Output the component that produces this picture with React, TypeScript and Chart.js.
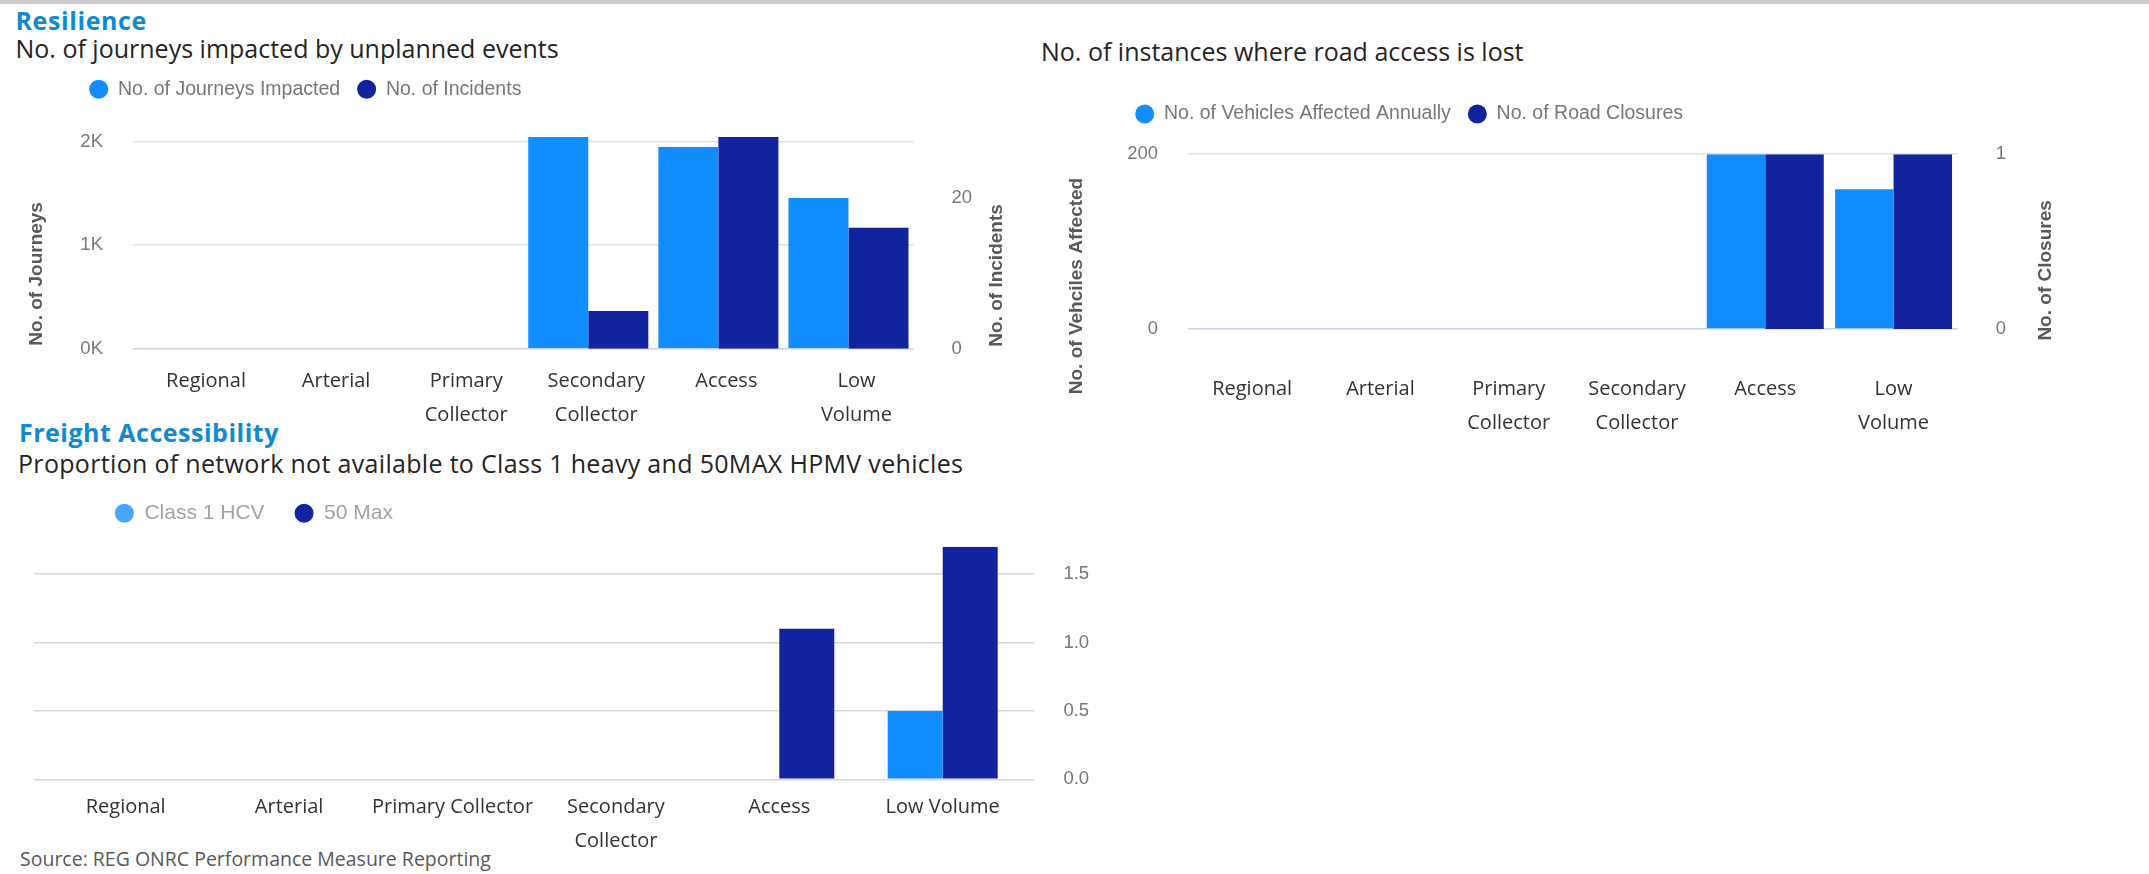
import React, { useEffect, useRef } from 'react';
import { Chart, registerables } from 'chart.js';

Chart.register(...registerables);

// ---------- data ----------
const topCategories: (string | string[])[] = ['Regional', 'Arterial', ['Primary', 'Collector'], ['Secondary', 'Collector'], 'Access', ['Low', 'Volume']];
const freightCategories: (string | string[])[] = ['Regional', 'Arterial', 'Primary Collector', ['Secondary', 'Collector'], 'Access', 'Low Volume'];

const journeysImpacted = [null, null, null, 2045, 1949, 1456];
const incidents = [null, null, null, 5, 28, 16];
const journeysTicks = [0, 1000, 2000];
const journeysTickLabels = ['0K', '1K', '2K'];
const journeysAxisMax = 2045;
const incidentsTicks = [0, 20];
const incidentsTickLabels = ['0', '20'];
const incidentsAxisMax = 28;

const vehiclesAffected = [null, null, null, null, 200, 160];
const roadClosures = [null, null, null, null, 1, 1];
const vehiclesTicks = [0, 200];
const vehiclesTickLabels = ['0', '200'];
const vehiclesAxisMax = 200;
const closuresTicks = [0, 1];
const closuresTickLabels = ['0', '1'];
const closuresAxisMax = 1;

const class1HCV = [null, null, null, null, null, 0.5];
const max50 = [null, null, null, null, 1.1, 1.7];
const freightTicks = [0, 0.5, 1, 1.5];
const freightTickLabels = ['0.0', '0.5', '1.0', '1.5'];
const freightAxisMax = 1.7;

// ---------- text ----------
const titleResilience = 'Resilience';
const titleJourneys = 'No. of journeys impacted by unplanned events';
const titleRoadAccess = 'No. of instances where road access is lost';
const titleFreight = 'Freight Accessibility';
const titleProportion = 'Proportion of network not available to Class 1 heavy and 50MAX HPMV vehicles';
const sourceText = 'Source: REG ONRC Performance Measure Reporting';
const axisJourneys = 'No. of Journeys';
const axisIncidents = 'No. of Incidents';
const axisVehicles = 'No. of Vehciles Affected';
const axisClosures = 'No. of Closures';

// ---------- styles ----------
const FONT_UI = "'Open Sans', 'Segoe UI', sans-serif";
const FONT_ARIAL = "'Liberation Sans', Arial, sans-serif";
const LIGHT = '#118DFF';
const DARK = '#12239E';
const GRID = '#e3e3e3';
const BASE = '#c9d2e4';
const TICK_COLOR = '#777777';
const BLUE_TITLE = '#0f89d0';

const tickFont = { family: FONT_ARIAL, size: 18.5 };
const catFont = { family: FONT_UI, size: 20, lineHeight: 1.7 };

function legendShift(dx: number, dy: number) {
  return {
    id: 'legendShift',
    afterLayout(chart: any) {
      const lg = chart.legend;
      if (!lg) return;
      lg.left += dx; lg.right += dx; lg.top += dy; lg.bottom += dy;
    },
  };
}

type AxisTitle = { text: string; side: 'left' | 'right'; dx: number; dy: number };
function axisTitlePlugin(items: AxisTitle[]) {
  return {
    id: 'axisTitleText',
    afterDraw(chart: any) {
      const { ctx, chartArea } = chart;
      const cy = (chartArea.top + chartArea.bottom) / 2;
      items.forEach((it) => {
        const x = it.side === 'left' ? chartArea.left - it.dx : chartArea.right + it.dx;
        ctx.save();
        ctx.translate(x, cy + it.dy);
        ctx.rotate(-Math.PI / 2);
        ctx.font = `bold 19px ${FONT_ARIAL}`;
        ctx.fillStyle = '#595959';
        ctx.textAlign = 'center';
        ctx.textBaseline = 'middle';
        ctx.fillText(it.text, 0, 0);
        ctx.restore();
      });
    },
  };
}

function yAxis(o: {
  position: 'left' | 'right'; max: number; ticks: number[]; labels: string[]; width: number; padding: number;
  grid: 'top' | 'freight' | 'none'; tickLength?: number; showLabels?: boolean; onChart?: boolean;
}) {
  const gridOpts: any =
    o.grid === 'none'
      ? { display: false }
      : {
          drawTicks: !!o.tickLength,
          tickLength: o.tickLength || 0,
          lineWidth: 1.5,
          drawOnChartArea: o.onChart !== false,
          color: (c: any) => (o.grid === 'top' && c.tick && c.tick.value === 0 ? BASE : o.grid === 'top' ? GRID : '#d9d9d9'),
        };
  return {
    type: 'linear',
    position: o.position,
    min: 0,
    max: o.max,
    afterBuildTicks: (s: any) => { s.ticks = o.ticks.map((v) => ({ value: v })); },
    ticks: {
      display: o.showLabels !== false,
      color: TICK_COLOR,
      font: tickFont,
      padding: o.padding,
      callback: (_v: any, i: number) => o.labels[i],
    },
    grid: gridOpts,
    border: { display: false },
    afterFit: (s: any) => { s.width = o.width; },
  };
}

function xAxis(padding: number, labelOffset: number, height: number) {
  return {
    grid: { display: false },
    border: { display: false },
    ticks: { color: '#333333', font: catFont, padding, labelOffset, maxRotation: 0, minRotation: 0, autoSkip: false },
    afterFit: (s: any) => { s.height = height; },
  };
}

function legendOpts(size: number, padding: number, color: string, colors?: string[]) {
  const labels: any = {
    usePointStyle: true,
    pointStyle: 'circle',
    boxWidth: 19,
    boxHeight: 13.4,
    padding,
    color,
    font: { family: FONT_ARIAL, size },
  };
  if (colors) {
    labels.generateLabels = (chart: any) => {
      const items = (Chart as any).defaults.plugins.legend.labels.generateLabels(chart);
      items.forEach((it: any, i: number) => { it.fillStyle = colors[i]; it.strokeStyle = colors[i]; it.lineWidth = 0; });
      return items;
    };
  }
  return { display: true, position: 'top', align: 'start', labels };
}

const baseOptions = { animation: false, responsive: true, maintainAspectRatio: false, events: [] as string[] };

function journeysConfig(): any {
  return {
    type: 'bar',
    data: {
      labels: topCategories,
      datasets: [
        { label: 'No. of Journeys Impacted', data: journeysImpacted, backgroundColor: LIGHT, yAxisID: 'yJ', categoryPercentage: 0.923, barPercentage: 1, borderWidth: 0 },
        { label: 'No. of Incidents', data: incidents, backgroundColor: DARK, yAxisID: 'yI', categoryPercentage: 0.923, barPercentage: 1, borderWidth: 0 },
      ],
    },
    options: {
      ...baseOptions,
      layout: { autoPadding: false, padding: { left: 0, top: 30.5, right: 66.5, bottom: 1.3 } },
      plugins: { legend: legendOpts(19.5, 17, '#777777'), tooltip: { enabled: false } },
      scales: {
        x: xAxis(7.3, 8, 90),
        yJ: yAxis({ position: 'left', max: journeysAxisMax, ticks: journeysTicks, labels: journeysTickLabels, width: 133, padding: 30, grid: 'top' }),
        yI: yAxis({ position: 'right', max: incidentsAxisMax, ticks: incidentsTicks, labels: incidentsTickLabels, width: 60, padding: 30, grid: 'none' }),
      },
    },
    plugins: [
      legendShift(72.2, -27.95),
      axisTitlePlugin([
        { text: axisJourneys, side: 'left', dx: 96, dy: 31 },
        { text: axisIncidents, side: 'right', dx: 83.5, dy: 32.6 },
      ]),
    ],
  };
}

function roadConfig(): any {
  return {
    type: 'bar',
    data: {
      labels: topCategories,
      datasets: [
        { label: 'No. of Vehicles Affected Annually', data: vehiclesAffected, backgroundColor: LIGHT, yAxisID: 'yV', categoryPercentage: 0.912, barPercentage: 1, borderWidth: 0 },
        { label: 'No. of Road Closures', data: roadClosures, backgroundColor: DARK, yAxisID: 'yC', categoryPercentage: 0.912, barPercentage: 1, borderWidth: 0 },
      ],
    },
    options: {
      ...baseOptions,
      layout: { autoPadding: false, padding: { left: 0, top: 27.7, right: 131.3, bottom: 1 } },
      plugins: { legend: legendOpts(19.5, 17, '#777777'), tooltip: { enabled: false } },
      scales: {
        x: xAxis(35, 0, 110),
        yV: yAxis({ position: 'left', max: vehiclesAxisMax, ticks: vehiclesTicks, labels: vehiclesTickLabels, width: 148, padding: 30, grid: 'top' }),
        yC: yAxis({ position: 'right', max: closuresAxisMax, ticks: closuresTicks, labels: closuresTickLabels, width: 60, padding: 30, grid: 'none' }),
      },
    },
    plugins: [
      legendShift(78.2, -20.45),
      axisTitlePlugin([
        { text: axisVehicles, side: 'left', dx: 111, dy: 44.4 },
        { text: axisClosures, side: 'right', dx: 87.8, dy: 28.8 },
      ]),
    ],
  };
}

function freightConfig(): any {
  return {
    type: 'bar',
    data: {
      labels: freightCategories,
      datasets: [
        { label: 'Class 1 HCV', data: class1HCV, backgroundColor: LIGHT, yAxisID: 'y', categoryPercentage: 0.673, barPercentage: 1, borderWidth: 0 },
        { label: '50 Max', data: max50, backgroundColor: DARK, yAxisID: 'y', categoryPercentage: 0.673, barPercentage: 1, borderWidth: 0 },
      ],
    },
    options: {
      ...baseOptions,
      layout: { autoPadding: false, padding: { left: 34, top: 25.7, right: 44.6, bottom: 14.7 } },
      plugins: { legend: legendOpts(21, 30, '#a3a3a3', ['#45a6ff', DARK]), tooltip: { enabled: false } },
      scales: {
        x: xAxis(3, 0, 80),
        yEdge: yAxis({ position: 'left', max: freightAxisMax, ticks: freightTicks, labels: freightTickLabels, width: 10, padding: 0, grid: 'freight', tickLength: 10, showLabels: false, onChart: false }),
        y: yAxis({ position: 'right', max: freightAxisMax, ticks: freightTicks, labels: freightTickLabels, width: 80, padding: 29, grid: 'freight', tickLength: 10 }),
      },
    },
    plugins: [legendShift(50.9, -12.9)],
  };
}

function ChartBox({ make, left, top, width, height }: { make: () => any; left: number; top: number; width: number; height: number }) {
  const ref = useRef<HTMLCanvasElement>(null);
  useEffect(() => {
    const chart = new Chart(ref.current as HTMLCanvasElement, make());
    return () => chart.destroy();
  }, []);
  return (
    <div style={{ position: 'absolute', left, top, width, height }}>
      <canvas ref={ref} />
    </div>
  );
}

function Text({ children, left, top, size, bold, color, spacing }: { children: string; left: number; top: number; size: number; bold?: boolean; color: string; spacing?: number }) {
  return (
    <div
      style={{
        position: 'absolute', left, top, margin: 0, whiteSpace: 'nowrap', lineHeight: 1,
        fontFamily: FONT_UI, fontSize: size, fontWeight: bold ? 700 : 400, color,
        letterSpacing: spacing ? `${spacing}px` : 'normal',
      }}
    >
      {children}
    </div>
  );
}

export default function App() {
  return (
    <div style={{ position: 'absolute', left: 0, top: 0, width: 2149, height: 874, background: '#ffffff', overflow: 'hidden' }}>
      <div style={{ position: 'absolute', left: 0, top: 0, width: 2149, height: 4, background: '#cbcbcb' }} />
      <Text left={15.5} top={8} size={25} bold color={BLUE_TITLE} spacing={0.6}>{titleResilience}</Text>
      <Text left={15.5} top={35.6} size={25} color="#252423">{titleJourneys}</Text>
      <Text left={1041} top={39.2} size={25} color="#252423">{titleRoadAccess}</Text>
      <Text left={19} top={419.6} size={25} bold color={BLUE_TITLE} spacing={0.5}>{titleFreight}</Text>
      <Text left={18} top={450.6} size={25} color="#252423" spacing={0.32}>{titleProportion}</Text>
      <Text left={20} top={849} size={19.5} color="#595959">{sourceText}</Text>
      <ChartBox make={journeysConfig} left={0} top={60} width={1040} height={380} />
      <ChartBox make={roadConfig} left={1040} top={80} width={1109} height={360} />
      <ChartBox make={freightConfig} left={0} top={460} width={1149} height={414} />
    </div>
  );
}
